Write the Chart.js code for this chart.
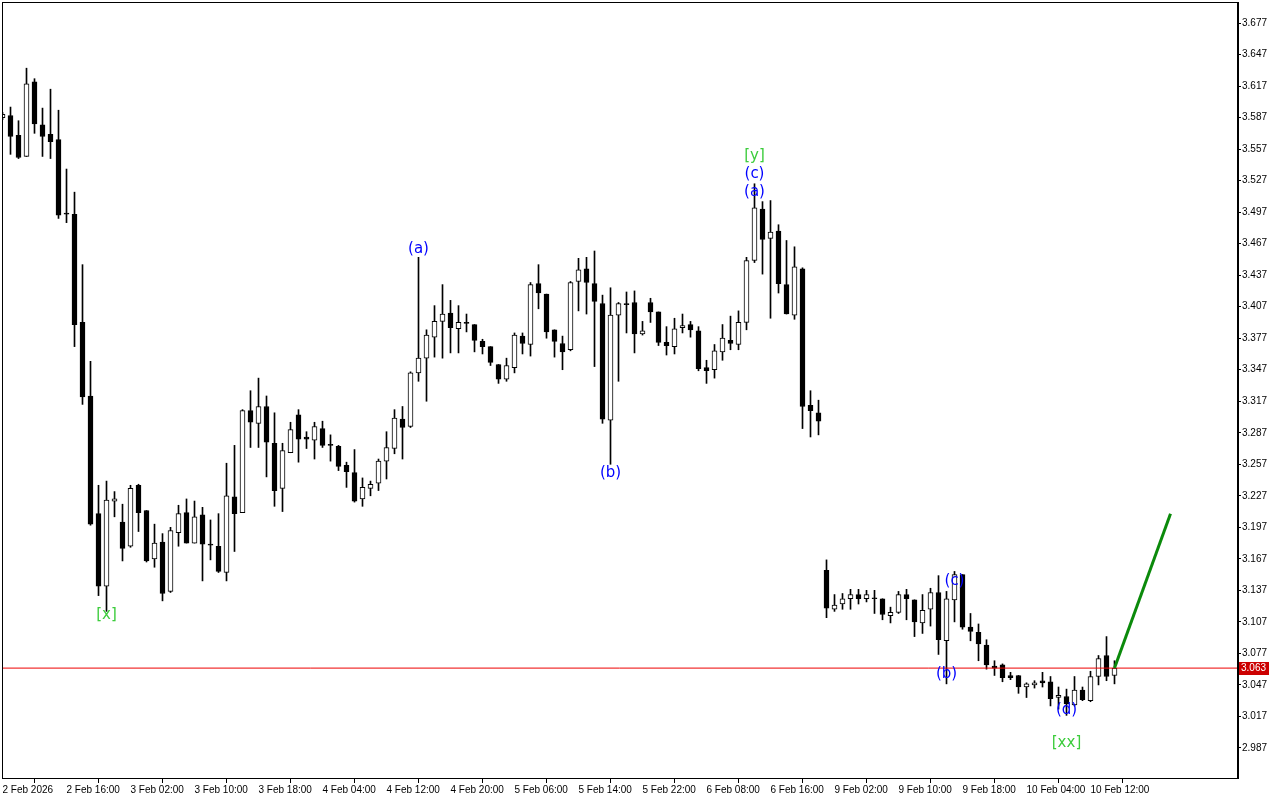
<!DOCTYPE html>
<html>
<head>
<meta charset="utf-8">
<title>H1 chart</title>
<script src="https://cdn.jsdelivr.net/npm/chart.js@4.4.1/dist/chart.umd.min.js"></script>
<style>
  html, body { margin: 0; padding: 0; background: #fff; }
  #wrap { width: 1280px; height: 800px; }
</style>
</head>
<body>
<div id="wrap"><canvas id="priceChart" width="1280" height="800"></canvas></div>
<script>
// --- Candles (one per hour, bar index = position) ---
const opens = [
    3.587, 3.589, 3.570, 3.550, 3.621, 3.580, 3.571, 3.566, 3.496, 3.495,
    3.392, 3.322, 3.210, 3.141, 3.222, 3.202, 3.179, 3.237, 3.213, 3.167,
    3.183, 3.136, 3.192, 3.211, 3.182, 3.209, 3.181, 3.179, 3.154, 3.226,
    3.211, 3.308, 3.296, 3.312, 3.277, 3.234, 3.268, 3.304, 3.283, 3.280,
    3.291, 3.276, 3.274, 3.256, 3.249, 3.224, 3.234, 3.239, 3.260, 3.272,
    3.300, 3.293, 3.344, 3.358, 3.378, 3.393, 3.401, 3.386, 3.392, 3.390,
    3.374, 3.369, 3.352, 3.338, 3.349, 3.379, 3.371, 3.429, 3.419, 3.385,
    3.372, 3.366, 3.431, 3.443, 3.429, 3.410, 3.299, 3.399, 3.410, 3.411,
    3.381, 3.411, 3.402, 3.373, 3.369, 3.387, 3.390, 3.384, 3.349, 3.347,
    3.364, 3.375, 3.371, 3.392, 3.451, 3.500, 3.472, 3.479, 3.428, 3.399,
    3.443, 3.313, 3.306, 3.156, 3.119, 3.124, 3.129, 3.133, 3.129, 3.130,
    3.129, 3.113, 3.116, 3.133, 3.128, 3.106, 3.119, 3.135, 3.089, 3.128,
    3.152, 3.102, 3.097, 3.085, 3.065, 3.066, 3.056, 3.056, 3.045, 3.047,
    3.051, 3.050, 3.035, 3.036, 3.028, 3.042, 3.032, 3.055, 3.075, 3.056
];
const highs = [
    3.592, 3.597, 3.584, 3.634, 3.624, 3.596, 3.614, 3.594, 3.538, 3.516,
    3.447, 3.355, 3.237, 3.241, 3.231, 3.219, 3.237, 3.238, 3.213, 3.200,
    3.191, 3.197, 3.218, 3.224, 3.222, 3.216, 3.204, 3.210, 3.258, 3.275,
    3.309, 3.327, 3.339, 3.322, 3.306, 3.277, 3.297, 3.309, 3.288, 3.297,
    3.298, 3.285, 3.275, 3.259, 3.271, 3.244, 3.241, 3.262, 3.288, 3.309,
    3.312, 3.345, 3.454, 3.385, 3.408, 3.428, 3.413, 3.408, 3.400, 3.390,
    3.376, 3.369, 3.352, 3.358, 3.382, 3.382, 3.430, 3.447, 3.419, 3.385,
    3.379, 3.431, 3.453, 3.454, 3.460, 3.418, 3.425, 3.411, 3.421, 3.422,
    3.393, 3.415, 3.402, 3.388, 3.396, 3.400, 3.393, 3.388, 3.356, 3.371,
    3.390, 3.398, 3.403, 3.454, 3.524, 3.507, 3.508, 3.485, 3.470, 3.464,
    3.444, 3.327, 3.318, 3.166, 3.133, 3.134, 3.138, 3.138, 3.137, 3.137,
    3.129, 3.121, 3.136, 3.138, 3.128, 3.133, 3.139, 3.151, 3.136, 3.155,
    3.152, 3.115, 3.105, 3.090, 3.070, 3.067, 3.059, 3.056, 3.049, 3.051,
    3.059, 3.055, 3.045, 3.043, 3.055, 3.045, 3.060, 3.075, 3.093, 3.070
];
const lows = [
    3.585, 3.552, 3.548, 3.550, 3.572, 3.550, 3.548, 3.491, 3.487, 3.369,
    3.314, 3.199, 3.132, 3.117, 3.207, 3.165, 3.178, 3.193, 3.164, 3.159,
    3.127, 3.135, 3.179, 3.182, 3.182, 3.146, 3.166, 3.154, 3.146, 3.174,
    3.211, 3.273, 3.273, 3.245, 3.217, 3.212, 3.268, 3.259, 3.272, 3.262,
    3.273, 3.260, 3.251, 3.235, 3.221, 3.217, 3.227, 3.232, 3.243, 3.267,
    3.262, 3.292, 3.336, 3.317, 3.359, 3.358, 3.363, 3.363, 3.383, 3.364,
    3.362, 3.351, 3.334, 3.336, 3.344, 3.362, 3.360, 3.405, 3.377, 3.359,
    3.347, 3.365, 3.403, 3.400, 3.350, 3.296, 3.257, 3.336, 3.382, 3.363,
    3.380, 3.392, 3.370, 3.361, 3.362, 3.382, 3.378, 3.346, 3.334, 3.339,
    3.356, 3.366, 3.366, 3.385, 3.449, 3.438, 3.396, 3.420, 3.400, 3.395,
    3.291, 3.283, 3.285, 3.111, 3.117, 3.119, 3.119, 3.124, 3.126, 3.115,
    3.109, 3.106, 3.115, 3.109, 3.093, 3.096, 3.103, 3.076, 3.048, 3.107,
    3.100, 3.089, 3.070, 3.062, 3.056, 3.050, 3.052, 3.039, 3.035, 3.044,
    3.045, 3.027, 3.024, 3.018, 3.027, 3.032, 3.031, 3.047, 3.051, 3.048
];
const closes = [
    3.590, 3.569, 3.549, 3.619, 3.581, 3.569, 3.564, 3.494, 3.495, 3.390,
    3.321, 3.200, 3.141, 3.223, 3.224, 3.177, 3.234, 3.211, 3.165, 3.182,
    3.134, 3.194, 3.210, 3.182, 3.207, 3.181, 3.180, 3.155, 3.227, 3.210,
    3.308, 3.297, 3.312, 3.278, 3.232, 3.270, 3.290, 3.281, 3.281, 3.293,
    3.275, 3.275, 3.255, 3.250, 3.222, 3.235, 3.238, 3.260, 3.273, 3.301,
    3.292, 3.344, 3.358, 3.380, 3.393, 3.400, 3.387, 3.392, 3.391, 3.375,
    3.369, 3.354, 3.338, 3.351, 3.380, 3.372, 3.428, 3.420, 3.383, 3.374,
    3.364, 3.430, 3.442, 3.430, 3.412, 3.300, 3.399, 3.410, 3.409, 3.381,
    3.384, 3.402, 3.373, 3.370, 3.386, 3.389, 3.385, 3.348, 3.346, 3.365,
    3.377, 3.372, 3.392, 3.451, 3.501, 3.471, 3.478, 3.429, 3.400, 3.445,
    3.312, 3.308, 3.298, 3.120, 3.123, 3.129, 3.133, 3.129, 3.133, 3.129,
    3.114, 3.116, 3.133, 3.129, 3.107, 3.118, 3.135, 3.090, 3.129, 3.152,
    3.102, 3.098, 3.086, 3.066, 3.063, 3.054, 3.054, 3.045, 3.048, 3.049,
    3.049, 3.034, 3.037, 3.029, 3.042, 3.033, 3.055, 3.072, 3.055, 3.063
];

// time axis: a label every 8 bars
const timeLabels = [
    '2 Feb 2026', '2 Feb 16:00', '3 Feb 02:00', '3 Feb 10:00', '3 Feb 18:00',
    '4 Feb 04:00', '4 Feb 12:00', '4 Feb 20:00', '5 Feb 06:00', '5 Feb 14:00',
    '5 Feb 22:00', '6 Feb 08:00', '6 Feb 16:00', '9 Feb 02:00', '9 Feb 10:00',
    '9 Feb 18:00', '10 Feb 04:00', '10 Feb 12:00'
];
const barsPerLabel = 8;

const priceTicks = [
    2.987, 3.017, 3.047, 3.077, 3.107, 3.137, 3.167, 3.197, 3.227, 3.257,
    3.287, 3.317, 3.347, 3.377, 3.407, 3.437, 3.467, 3.497, 3.527, 3.557,
    3.587, 3.617, 3.647, 3.677
];
const currentPrice = 3.063;

// projected move (green)
const forecastBars = [139, 146];
const forecastPrices = [3.063, 3.210];

// wave marks
const waveTexts = ['[x]', '(a)', '(b)', '[y]', '(c)', '(a)', '(c)', '(b)', '(d)', '[xx]'];
const waveBars = [13, 52, 76, 94, 94, 94, 119, 118, 133, 133];
const wavePrices = [3.113, 3.462, 3.249, 3.550, 3.533, 3.516, 3.146, 3.057, 3.023, 2.992];
const waveDegree = ['major', 'minor', 'minor', 'major', 'minor', 'minor', 'minor', 'minor', 'minor', 'major'];

// --- Build datasets ---
const wickData = opens.map((o, i) => ({ x: i, y: [lows[i], highs[i]] }));
const bodyData = opens.map((o, i) => ({ x: i, y: [o, closes[i]] }));
const bodyColors = opens.map((o, i) => (closes[i] >= o ? '#ffffff' : '#000000'));

const axisFont = { family: 'Liberation Sans', size: 10 };

// no extra room for half labels at the axis ends
const noScalePadding = (scale) => {
    scale.paddingTop = 0;
    scale.paddingBottom = 0;
    scale.paddingLeft = 0;
    scale.paddingRight = 0;
};

// frame, wave labels and the price tag
const overlayPlugin = {
    id: 'overlay',
    afterDatasetsDraw(chart) {
        const { ctx, scales: { x, y } } = chart;
        ctx.save();
        ctx.font = '15px "DejaVu Sans"';
        ctx.textAlign = 'center';
        ctx.textBaseline = 'middle';
        waveTexts.forEach((t, k) => {
            ctx.fillStyle = waveDegree[k] === 'major' ? '#3ccc3c' : '#0000ff';
            ctx.fillText(t, x.getPixelForValue(waveBars[k]), y.getPixelForValue(wavePrices[k]));
        });
        ctx.restore();
    },
    afterDraw(chart) {
        const { ctx, chartArea: a, scales: { y } } = chart;
        ctx.save();
        ctx.fillStyle = '#000';
        ctx.fillRect(a.left, a.top, a.right - a.left, 1);      // top
        ctx.fillRect(a.left, a.top, 1, a.bottom - a.top);      // left
        ctx.fillRect(a.left, a.bottom, a.right - a.left + 2, 1); // bottom
        ctx.fillRect(a.right, a.top, 2, a.bottom - a.top + 1); // right axis

        const py = Math.round(y.getPixelForValue(currentPrice));
        ctx.fillStyle = '#cc0000';
        ctx.fillRect(a.right + 2, py - 6, 30, 13);
        ctx.fillStyle = '#fff';
        ctx.font = '10px "Liberation Sans"';
        ctx.textBaseline = 'middle';
        ctx.textAlign = 'left';
        ctx.fillText(currentPrice.toFixed(3), a.right + 4, py + 0.5);
        ctx.restore();
    }
};

const ctx = document.getElementById('priceChart').getContext('2d');
new Chart(ctx, {
    type: 'bar',
    data: {
        datasets: [
            {
                type: 'line',
                data: forecastBars.map((b, k) => ({ x: b, y: forecastPrices[k] })),
                borderColor: '#0b8a0b',
                borderWidth: 3,
                pointRadius: 0
            },
            {
                type: 'line',
                data: [{ x: -5, y: currentPrice }, { x: 200, y: currentPrice }],
                borderColor: '#ee0000',
                borderWidth: 1,
                pointRadius: 0
            },
            {
                data: bodyData,
                backgroundColor: bodyColors,
                borderColor: '#000',
                borderWidth: 1,
                borderSkipped: false,
                barThickness: 5,
                minBarLength: 1,
                grouped: false
            },
            {
                data: wickData,
                backgroundColor: '#000',
                borderWidth: 0,
                barThickness: 1,
                minBarLength: 1,
                grouped: false
            }
        ]
    },
    options: {
        responsive: false,
        animation: false,
        events: [],
        layout: { padding: { left: 2, top: 2, right: 0, bottom: 0 } },
        plugins: {
            legend: { display: false },
            tooltip: { enabled: false }
        },
        scales: {
            x: {
                type: 'linear',
                min: -0.0625,
                max: 154.3125,
                offset: false,
                grid: { drawOnChartArea: false, tickLength: 5, color: '#000' },
                border: { display: false },
                afterBuildTicks: (scale) => {
                    scale.ticks = timeLabels.map((t, k) => ({ value: k * barsPerLabel }));
                },
                afterFit: (scale) => { scale.height = 22; noScalePadding(scale); },
                ticks: {
                    autoSkip: false,
                    maxRotation: 0,
                    align: 'start',
                    padding: 1,
                    color: '#000',
                    font: axisFont,
                    callback: (v, idx) => timeLabels[idx]
                }
            },
            y: {
                position: 'right',
                min: 2.9584,
                max: 3.6970,
                grid: { drawOnChartArea: false, tickLength: 4, color: '#000' },
                border: { display: false },
                afterBuildTicks: (scale) => {
                    scale.ticks = priceTicks.map(v => ({ value: v }));
                },
                afterFit: (scale) => { scale.width = 43; noScalePadding(scale); },
                ticks: {
                    padding: 1,
                    color: '#000',
                    font: axisFont,
                    callback: (v) => Number(v).toFixed(3)
                }
            }
        }
    },
    plugins: [overlayPlugin]
});
</script>
</body>
</html>
